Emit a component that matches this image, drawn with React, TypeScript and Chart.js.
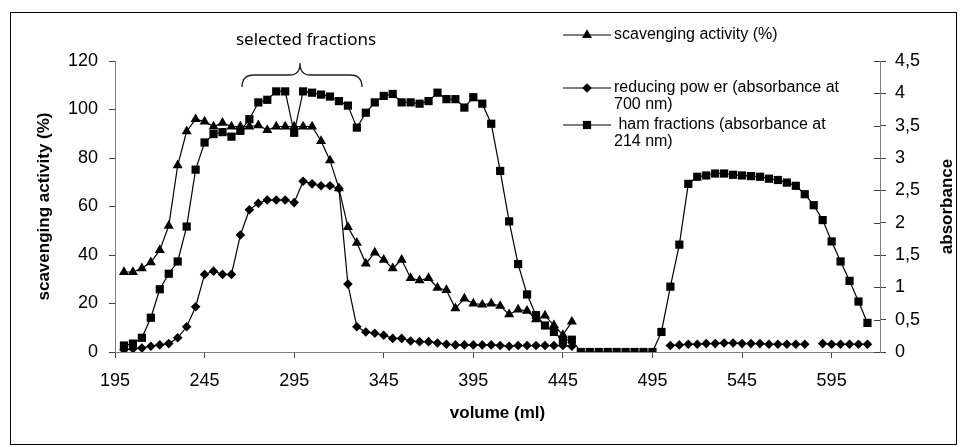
import React, { useEffect, useRef } from 'react';
import { Chart, registerables } from 'chart.js';
Chart.register(...registerables);

const volumes = [
  200, 205, 210, 215, 220, 225, 230, 235, 240, 245, 250, 255, 260, 265, 270, 275, 280, 285, 290, 295,
  300, 305, 310, 315, 320, 325, 330, 335, 340, 345, 350, 355, 360, 365, 370, 375, 380, 385, 390, 395,
  400, 405, 410, 415, 420, 425, 430, 435, 440, 445, 450, 455, 460, 465, 470, 475, 480, 485, 490, 495,
  500, 505, 510, 515, 520, 525, 530, 535, 540, 545, 550, 555, 560, 565, 570, 575, 580, 585, 590, 595,
  600, 605, 610, 615,
];

const scavenging = [
  33, 33, 34.5, 37, 42, 52, 77, 91, 96, 95, 93, 94.5, 93, 93, 93, 93.5, 91.5, 93, 93, 93,
  93, 93, 87, 79, 67.5, 51.5, 45, 36.5, 41, 38, 34.5, 38, 30.5, 29.5, 30.5, 26.5, 25.5, 18, 22, 20,
  19.5, 20, 19, 15.5, 17.5, 17, 13.5, 15, 11, 7, 12.5, null, null, null, null, null, null, null, null, null,
  null, null, null, null, null, null, null, null, null, null, null, null, null, null, null, null, null, null, null, null,
  null, null, null, null,
];

const reducingPower = [
  0.03, 0.05, 0.06, 0.09, 0.11, 0.13, 0.22, 0.39, 0.7, 1.2, 1.25, 1.2, 1.2, 1.81, 2.2, 2.3, 2.35, 2.35, 2.35, 2.31,
  2.64, 2.6, 2.57, 2.57, 2.53, 1.05, 0.39, 0.31, 0.29, 0.26, 0.21, 0.21, 0.17, 0.16, 0.16, 0.14, 0.12, 0.11, 0.11, 0.11,
  0.11, 0.11, 0.1, 0.09, 0.1, 0.1, 0.1, 0.1, 0.1, 0.1, 0.09, null, null, null, null, null, null, null, null, null,
  null, 0.1, 0.11, 0.12, 0.12, 0.13, 0.13, 0.14, 0.14, 0.13, 0.13, 0.13, 0.12, 0.12, 0.12, 0.12, 0.12, null, 0.13, 0.12,
  0.12, 0.12, 0.12, 0.12,
];

const hamFractions = [
  0.1, 0.13, 0.22, 0.53, 0.97, 1.21, 1.4, 1.94, 2.82, 3.24, 3.37, 3.4, 3.33, 3.42, 3.6, 3.86, 3.9, 4.03, 4.03, 3.39,
  4.03, 4.01, 3.98, 3.95, 3.88, 3.81, 3.47, 3.7, 3.86, 3.96, 3.99, 3.86, 3.86, 3.84, 3.88, 4.01, 3.91, 3.91, 3.78, 3.94,
  3.84, 3.53, 2.8, 2.02, 1.36, 0.89, 0.57, 0.41, 0.31, 0.18, 0.19, 0, 0, 0, 0, 0, 0, 0, 0, 0,
  0.31, 1.01, 1.66, 2.6, 2.71, 2.73, 2.76, 2.76, 2.74, 2.73, 2.72, 2.71, 2.68, 2.66, 2.62, 2.57, 2.44, 2.27, 2.04, 1.71,
  1.4, 1.1, 0.78, 0.45,
];

const xTickValues = [195, 245, 295, 345, 395, 445, 495, 545, 595];
const legendLabels = [
  ['scavenging activity (%)'],
  ['reducing pow er (absorbance at', '700 nm)'],
  [' ham fractions (absorbance at', '214 nm)'],
];
const xTitle = 'volume (ml)';
const yTitle = 'scavenging activity (%)';
const y1Title = 'absorbance';
const annotationText = 'selected fractions';

const FONT = '"Liberation Sans", Arial, sans-serif';

function drawMarker(ctx: CanvasRenderingContext2D, style: string, x: number, y: number) {
  ctx.beginPath();
  if (style === 'triangle') {
    const r = 5.8;
    ctx.moveTo(x, y - r);
    ctx.lineTo(x + 0.866 * r, y + r / 2);
    ctx.lineTo(x - 0.866 * r, y + r / 2);
    ctx.closePath();
  } else if (style === 'rectRot') {
    const r = 4.8;
    ctx.moveTo(x, y - r);
    ctx.lineTo(x + r, y);
    ctx.lineTo(x, y + r);
    ctx.lineTo(x - r, y);
    ctx.closePath();
  } else {
    const s = 4.1;
    ctx.rect(x - s, y - s, 2 * s, 2 * s);
  }
  ctx.fill();
}

const decor = {
  id: 'decor',
  afterDraw(chart: any) {
    const ctx: CanvasRenderingContext2D = chart.ctx;
    const area = chart.chartArea;
    ctx.save();
    // frame
    ctx.strokeStyle = '#000';
    ctx.lineWidth = 1;
    ctx.strokeRect(10.5, 12.5, 946, 432);

    // inner half ticks on right axis
    const y1 = chart.scales.y1;
    ctx.strokeStyle = '#404040';
    y1.ticks.forEach((t: any) => {
      const py = Math.round(y1.getPixelForValue(t.value)) + 0.5;
      ctx.beginPath();
      ctx.moveTo(area.right - 6, py);
      ctx.lineTo(area.right, py);
      ctx.stroke();
    });

    // titles
    ctx.fillStyle = '#000';
    ctx.font = `bold 17px ${FONT}`;
    ctx.textAlign = 'center';
    ctx.textBaseline = 'middle';
    ctx.fillText(xTitle, (area.left + area.right) / 2, 413);
    const cy = (area.top + area.bottom) / 2;
    ctx.save();
    ctx.translate(44, cy);
    ctx.rotate(-Math.PI / 2);
    ctx.fillText(yTitle, 0, 0);
    ctx.restore();
    ctx.save();
    ctx.translate(947, cy);
    ctx.rotate(-Math.PI / 2);
    ctx.fillText(y1Title, 0, 0);
    ctx.restore();

    // legend
    const styles = ['triangle', 'rectRot', 'rect'];
    const rows = [35, 88, 125];
    ctx.font = `16px ${FONT}`;
    ctx.textAlign = 'left';
    legendLabels.forEach((lines, i) => {
      const y = rows[i];
      ctx.strokeStyle = '#000';
      ctx.lineWidth = 1.2;
      ctx.beginPath();
      ctx.moveTo(563, y);
      ctx.lineTo(611, y);
      ctx.stroke();
      ctx.fillStyle = '#000';
      drawMarker(ctx, styles[i], 587, y);
      lines.forEach((ln, j) => ctx.fillText(ln, 614, y + j * 17));
    });

    // annotation
    ctx.font = `17px "Noto Sans", "Open Sans", sans-serif`;
    ctx.textAlign = 'center';
    ctx.fillText(annotationText, 306, 40);
    ctx.strokeStyle = '#222';
    ctx.lineWidth = 1.3;
    ctx.beginPath();
    ctx.moveTo(242, 87);
    ctx.quadraticCurveTo(242, 75, 254, 75);
    ctx.lineTo(290, 75);
    ctx.quadraticCurveTo(300, 75, 300, 63);
    ctx.quadraticCurveTo(300, 75, 310, 75);
    ctx.lineTo(350, 75);
    ctx.quadraticCurveTo(362, 75, 362, 87);
    ctx.stroke();
    ctx.restore();
  },
};

export default function App() {
  const ref = useRef<HTMLCanvasElement>(null);
  useEffect(() => {
    const canvas = ref.current!;
    const pts = (ys: (number | null)[]) => volumes.map((x, i) => ({ x, y: ys[i] }));
    const common = {
      borderColor: '#000',
      backgroundColor: '#000',
      pointBackgroundColor: '#000',
      pointBorderColor: '#000',
      pointBorderWidth: 0,
      borderWidth: 1.2,
      spanGaps: false,
      tension: 0,
    };
    const chart = new Chart(canvas, {
      type: 'line',
      data: {
        datasets: [
          { ...common, label: legendLabels[0].join(' '), data: pts(scavenging), yAxisID: 'y', pointStyle: 'triangle', pointRadius: 5.8 },
          { ...common, label: legendLabels[1].join(' '), data: pts(reducingPower), yAxisID: 'y1', pointStyle: 'rectRot', pointRadius: 4.8 },
          { ...common, label: legendLabels[2].join(' '), data: pts(hamFractions), yAxisID: 'y1', pointStyle: 'rect', pointRadius: 5.8 },
        ] as any,
      },
      options: {
        animation: false,
        responsive: false,
        layout: { padding: { top: 61, left: 0, right: 0, bottom: 0 } },
        plugins: { legend: { display: false }, tooltip: { enabled: false } },
        font: { family: FONT },
        scales: {
          x: {
            type: 'linear',
            min: 195,
            max: 622,
            afterBuildTicks: (s: any) => {
              s.ticks = xTickValues.map((v) => ({ value: v }));
            },
            afterFit: (s: any) => {
              s.height = 95;
            },
            grid: { drawOnChartArea: false, tickLength: 6, tickColor: '#404040' },
            border: { color: '#808080', width: 1 },
            ticks: { padding: 12, color: '#000', font: { size: 18, family: FONT }, autoSkip: false, maxRotation: 0, callback: (v: any) => String(v) },
          },
          y: {
            position: 'left',
            min: 0,
            max: 120,
            afterFit: (s: any) => {
              s.width = 115;
            },
            grid: { drawOnChartArea: false, tickLength: 6, tickColor: '#404040' },
            border: { color: '#808080', width: 1 },
            ticks: { stepSize: 20, padding: 11, color: '#000', font: { size: 18, family: FONT } },
          },
          y1: {
            position: 'right',
            min: 0,
            max: 4.5,
            afterFit: (s: any) => {
              s.width = 86;
            },
            grid: { drawOnChartArea: false, tickLength: 6, tickColor: '#404040' },
            border: { color: '#808080', width: 1 },
            ticks: { stepSize: 0.5, padding: 9, color: '#000', font: { size: 18, family: FONT }, callback: (v: any) => String(v).replace('.', ',') },
          },
        },
      } as any,
      plugins: [decor],
    });
    return () => chart.destroy();
  }, []);
  return (
    <div style={{ position: 'fixed', left: 0, top: 0, width: 966, height: 447, background: '#fff' }}>
      <canvas ref={ref} width={966} height={447} style={{ display: 'block' }} />
    </div>
  );
}
